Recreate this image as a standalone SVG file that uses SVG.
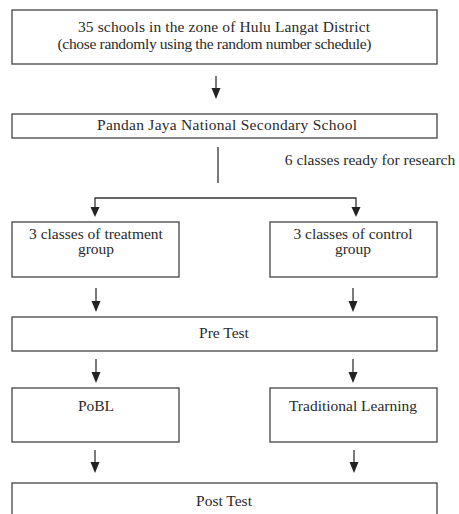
<svg xmlns="http://www.w3.org/2000/svg" width="459" height="514" viewBox="0 0 459 514">
<defs>
<style>
.box{fill:#fff;stroke:#444;stroke-width:1.3}
.t{font-family:"Liberation Serif","Times New Roman",serif;font-size:15.5px;fill:#2a2a2a;text-anchor:middle}
.c{stroke:#333;stroke-width:1.3;fill:none}
.h{fill:#222}
</style>
</defs>
<rect width="459" height="514" fill="#fff"/>
<g id="connectors">
<line class="c" x1="216" y1="76" x2="216" y2="88"/>
<path class="h" d="M211.5,88 L220.5,88 L216,99 Z"/>
<line class="c" x1="218" y1="147" x2="218" y2="183"/>
<polyline class="c" points="95,207 95,198 356,198 356,207"/>
<path class="h" d="M90.5,207 L99.5,207 L95,217 Z"/>
<path class="h" d="M351.5,207 L360.5,207 L356,217 Z"/>
<line class="c" x1="96" y1="288" x2="96" y2="302"/>
<path class="h" d="M91.5,301 L100.5,301 L96,312 Z"/>
<line class="c" x1="353" y1="288" x2="353" y2="302"/>
<path class="h" d="M348.5,301 L357.5,301 L353,312 Z"/>
<line class="c" x1="96" y1="359" x2="96" y2="373"/>
<path class="h" d="M91.5,372 L100.5,372 L96,383 Z"/>
<line class="c" x1="353" y1="359" x2="353" y2="373"/>
<path class="h" d="M348.5,372 L357.5,372 L353,383 Z"/>
<line class="c" x1="95" y1="450" x2="95" y2="463"/>
<path class="h" d="M90.5,462 L99.5,462 L95,473 Z"/>
<line class="c" x1="354" y1="450" x2="354" y2="463"/>
<path class="h" d="M349.5,462 L358.5,462 L354,473 Z"/>
<text class="t" x="370" y="165">6 classes ready for research</text>
</g>
<g id="n1">
<rect class="box" x="12" y="10" width="425" height="54"/>
<text class="t" x="224" y="31.5" textLength="292">35 schools in the zone of Hulu Langat District</text>
<text class="t" x="214.5" y="48.5" textLength="314">(chose randomly using the random number schedule)</text>
</g>
<g id="n2">
<rect class="box" x="12" y="114" width="425" height="24"/>
<text class="t" x="227" y="130" textLength="260">Pandan Jaya National Secondary School</text>
</g>
<g id="n3">
<rect class="box" x="12" y="222" width="167" height="55"/>
<text class="t" x="96" y="238.5">3 classes of treatment</text>
<text class="t" x="96" y="254">group</text>
</g>
<g id="n4">
<rect class="box" x="270" y="222" width="167" height="55"/>
<text class="t" x="353" y="238.5">3 classes of control</text>
<text class="t" x="353" y="254">group</text>
</g>
<g id="n5">
<rect class="box" x="12" y="317" width="425" height="34"/>
<text class="t" x="224" y="338">Pre Test</text>
</g>
<g id="n6">
<rect class="box" x="12" y="388" width="167" height="54"/>
<text class="t" x="96" y="410.5">PoBL</text>
</g>
<g id="n7">
<rect class="box" x="270" y="388" width="167" height="54"/>
<text class="t" x="353" y="410.5">Traditional Learning</text>
</g>
<g id="n8">
<rect class="box" x="12" y="483" width="425" height="40"/>
<text class="t" x="224" y="505.5">Post Test</text>
</g>
</svg>
